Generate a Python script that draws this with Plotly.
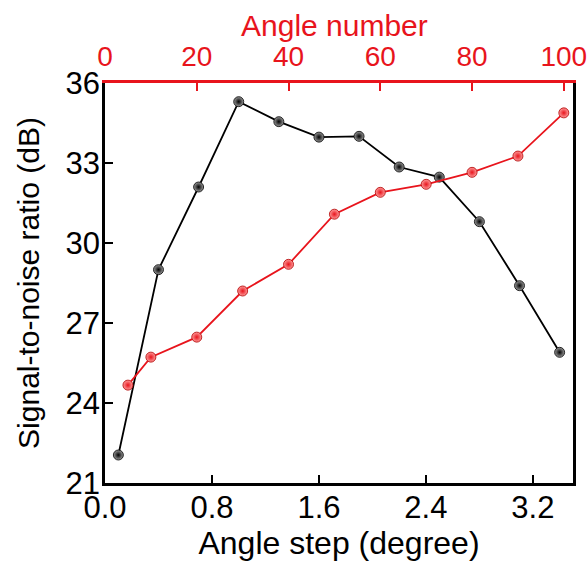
import plotly.graph_objects as go

# Black series: SNR vs angle step (bottom axis)
angle_step = [0.1, 0.4, 0.7, 1.0, 1.3, 1.6, 1.9, 2.2, 2.5, 2.8, 3.1, 3.4]
snr_step = [22.05, 29.0, 32.1, 35.3, 34.55, 33.97, 34.0, 32.85, 32.47, 30.8, 28.4, 25.9]

# Red series: SNR vs angle number (top axis)
angle_number = [5, 10, 20, 30, 40, 50, 60, 70, 80, 90, 100]
snr_number = [24.67, 25.72, 26.47, 28.2, 29.2, 31.08, 31.9, 32.2, 32.65, 33.26, 34.88]

y_ticks = [21, 24, 27, 30, 33, 36]
x_ticks = [0.0, 0.8, 1.6, 2.4, 3.2]
x2_ticks = [0, 20, 40, 60, 80, 100]

RED = "#e8141c"
FONT = "Liberation Sans, Arial, sans-serif"
NARROW = "Liberation Sans Narrow, Arial Narrow, Liberation Sans, sans-serif"

fig = go.Figure()
fig.add_trace(go.Scatter(
    x=angle_step, y=snr_step, mode="lines+markers", xaxis="x", yaxis="y",
    line=dict(color="black", width=1.8),
    marker=dict(size=10, color="#9a9a9a", gradient=dict(type="radial", color="black"),
                line=dict(color="black", width=0.8)),
    showlegend=False,
))
fig.add_trace(go.Scatter(
    x=angle_number, y=snr_number, mode="lines+markers", xaxis="x2", yaxis="y",
    line=dict(color=RED, width=1.8),
    marker=dict(size=10, color="#ff9a9a", gradient=dict(type="radial", color=RED),
                line=dict(color="#b00000", width=0.8)),
    showlegend=False,
))

fig.add_annotation(
    text="Angle number", xref="paper", yref="paper", x=0.49, y=1,
    xanchor="center", yanchor="middle", yshift=58, showarrow=False,
    font=dict(size=30, color=RED, family=FONT),
)

fig.update_layout(
    width=587, height=566,
    margin=dict(l=105, r=14, t=83, b=83),
    paper_bgcolor="white", plot_bgcolor="white",
    font=dict(family=FONT, size=30, color="black"),
    xaxis=dict(
        range=[0, 3.5], tickvals=x_ticks, ticktext=[f"{v:.1f}" for v in x_ticks],
        showgrid=False, zeroline=False, showline=True, linecolor="black", linewidth=2.5,
        ticks="inside", ticklen=8, tickwidth=2, tickcolor="black",
        ticklabelstandoff=-5, automargin=False,
        title=dict(text="Angle step (degree)", font=dict(size=32), standoff=2),
        tickfont=dict(size=31),
    ),
    xaxis2=dict(
        range=[0, 102], overlaying="x", side="top", tickvals=x2_ticks,
        showgrid=False, zeroline=False, showline=True, linecolor=RED, linewidth=2.5,
        ticks="inside", ticklen=8, tickwidth=2, tickcolor=RED,
        ticklabelstandoff=3, automargin=False, ticklabeloverflow="allow",
        tickfont=dict(size=28, color=RED),
    ),
    yaxis=dict(
        range=[21, 36], tickvals=y_ticks,
        showgrid=False, zeroline=False, showline=True, linecolor="black", linewidth=2.5,
        mirror=True,
        ticks="inside", ticklen=8, tickwidth=2, tickcolor="black",
        ticklabelstandoff=-4, automargin=False,
        tickfont=dict(size=31),
        title=dict(text="Signal-to-noise ratio (dB)", font=dict(size=30, family=NARROW), standoff=18),
    ),
)

fig.write_html("out.html", config={"displayModeBar": False},
               post_script="document.body.style.margin='0';")
